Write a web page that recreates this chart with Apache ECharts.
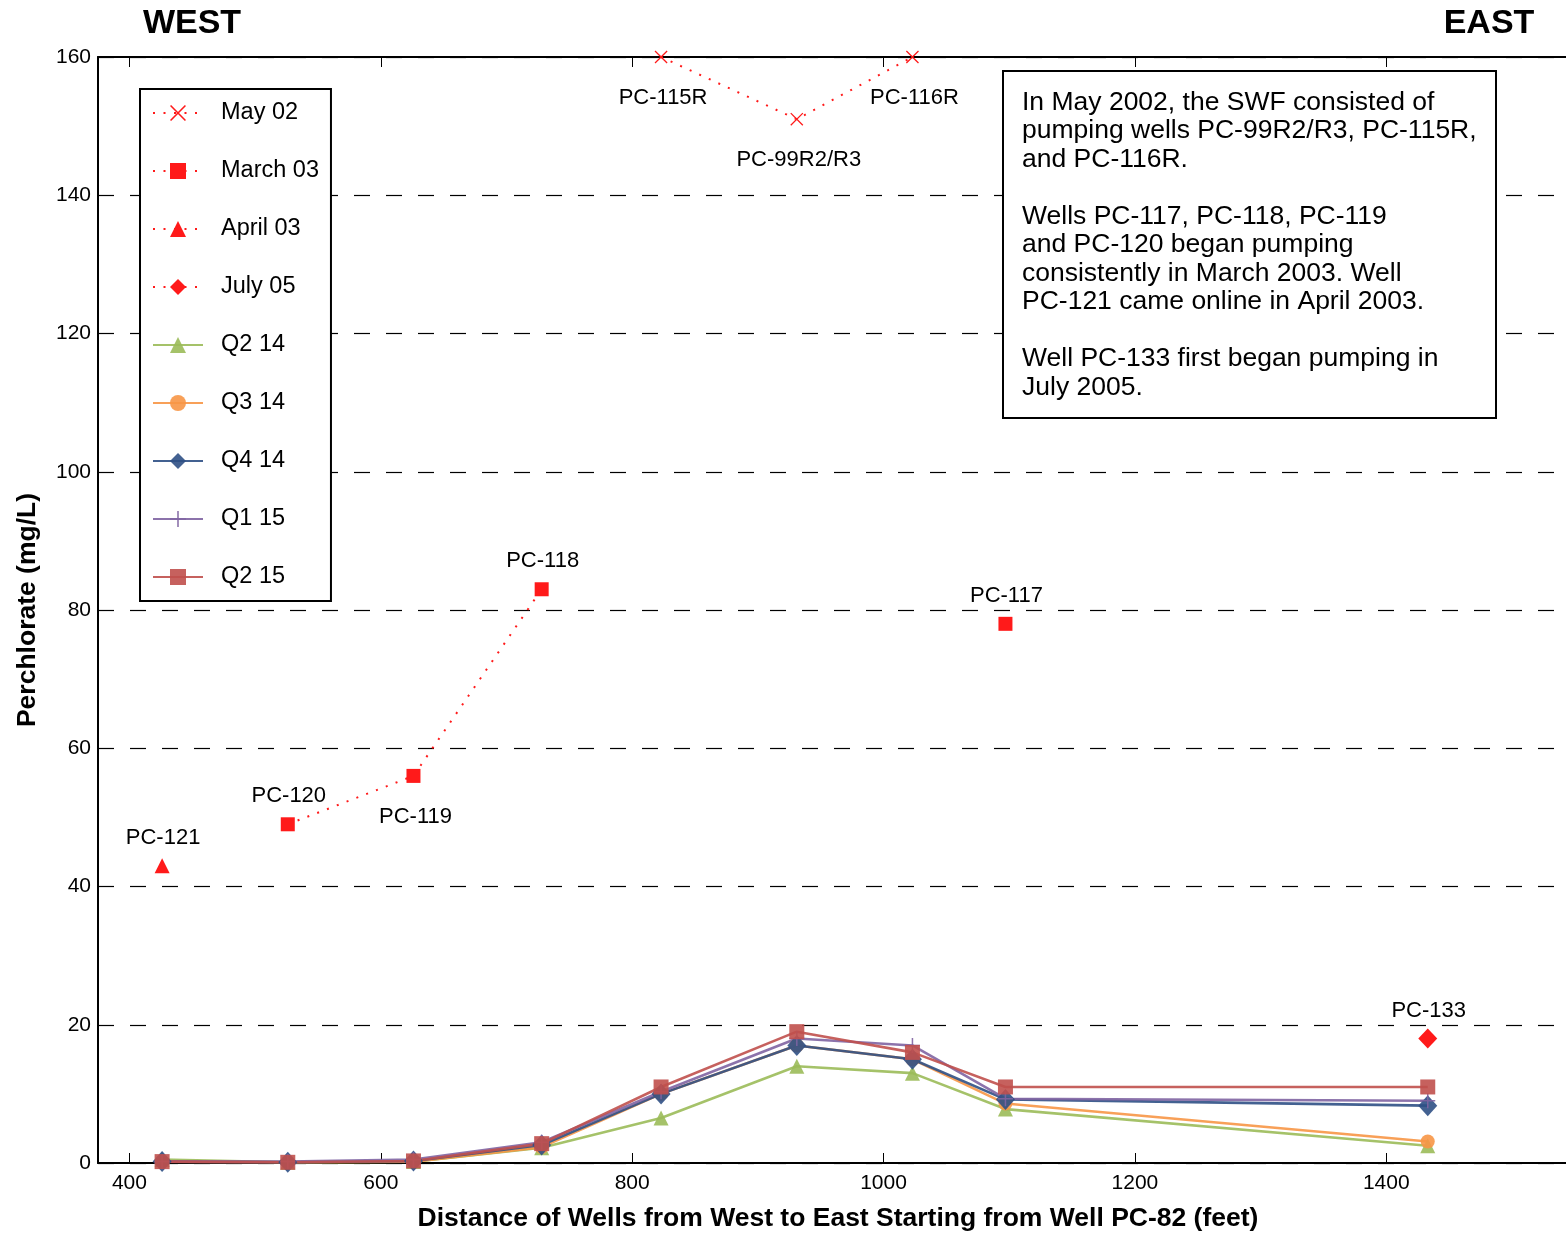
<!DOCTYPE html>
<html>
<head>
<meta charset="utf-8">
<script src="https://cdn.jsdelivr.net/npm/echarts@6/dist/echarts.min.js"></script>
<style>
  html, body { margin: 0; padding: 0; background: #fff; }
  #chart { width: 1566px; height: 1237px; }
</style>
</head>
<body>
<div id="chart"></div>
<script>
// Wells ordered west to east, with distance from PC-82 (feet)
const wellNames = ['PC-121', 'PC-120', 'PC-119', 'PC-118', 'PC-115R', 'PC-99R2/R3', 'PC-116R', 'PC-117', 'PC-133'];
const wellDistance = [426, 526, 626, 728, 823, 931, 1023, 1097, 1433];

// Perchlorate (mg/L) at each well; null = not pumping at that time
const may02   = [null, null, null, null, 160, 151, 160, null, null];
const march03 = [null, 49, 56, 83, null, null, null, 78, null];
const april03 = [43, null, null, null, null, null, null, null, null];
const july05  = [null, null, null, null, null, null, null, null, 18];
const q2_14   = [0.5, 0.1, 0.2, 2.2, 6.5, 14, 13, 7.8, 2.5];
const q3_14   = [0.2, 0.1, 0.2, 2.3, 10, 17, 15, 8.6, 3.1];
const q4_14   = [0.2, 0.1, 0.3, 2.6, 10, 17, 15, 9.2, 8.3];
const q1_15   = [0.2, 0.2, 0.5, 3.0, 10.3, 18, 17, 9.3, 9.0];
const q2_15   = [0.2, 0.1, 0.3, 2.8, 11, 19, 16, 11, 11];

const xTicks = [400, 600, 800, 1000, 1200, 1400];
const yTicks = [0, 20, 40, 60, 80, 100, 120, 140, 160];

const FONT = '"Liberation Sans", Arial, Helvetica, sans-serif';
const RED = '#ff1a1a';

// label placement next to the well markers (pixels)
const ABOVE = [1, -28];
const BELOW = [2, 41];
const labelPlacement = {
  'PC-121': ABOVE, 'PC-120': ABOVE, 'PC-119': BELOW, 'PC-118': ABOVE,
  'PC-117': ABOVE, 'PC-133': ABOVE,
  'PC-115R': BELOW, 'PC-99R2/R3': BELOW, 'PC-116R': BELOW
};

const CROSS = 'path://M0,0.7L0.7,0L10,9.3L9.3,10Z M9.3,0L10,0.7L0.7,10L0,9.3Z';
const PLUS = 'path://M4.5,0H5.5V4.5H10V5.5H5.5V10H4.5V5.5H0V4.5H4.5Z';

function toPoints(values, labelled) {
  return values.map((v, i) => {
    const item = { name: wellNames[i], value: [wellDistance[i], v == null ? '-' : v] };
    if (labelled && v != null) {
      item.label = {
        show: true, position: 'inside', offset: labelPlacement[wellNames[i]],
        formatter: '{b}', color: '#000', fontSize: 22, fontFamily: FONT
      };
    }
    return item;
  });
}

function earlySeries(name, values, symbol, size) {
  return {
    name, type: 'line', data: toPoints(values, true),
    symbol, symbolSize: size, showAllSymbol: true, clip: false,
    itemStyle: { color: RED },
    lineStyle: { color: RED, width: 2, type: [2, 8.5] },
    emphasis: { disabled: true }, z: 5
  };
}

function recentSeries(name, values, color, symbol, size) {
  return {
    name, type: 'line', data: toPoints(values, false),
    symbol, symbolSize: size, showAllSymbol: true,
    itemStyle: { color, opacity: 0.9 },
    lineStyle: { color, width: 2.6, opacity: 0.9 },
    emphasis: { disabled: true }, z: 3
  };
}

const series = [
  recentSeries('Q2 14', q2_14, '#9bbb59', 'triangle', 15),
  recentSeries('Q3 14', q3_14, '#f79646', 'circle', 14),
  recentSeries('Q4 14', q4_14, '#2f5085', 'diamond', [19, 21]),
  recentSeries('Q1 15', q1_15, '#8064a2', PLUS, 15),
  recentSeries('Q2 15', q2_15, '#c0504d', 'rect', 15),
  earlySeries('May 02', may02, CROSS, 13),
  earlySeries('March 03', march03, 'rect', 14),
  earlySeries('April 03', april03, 'triangle', 15),
  earlySeries('July 05', july05, 'diamond', [19, 20])
];

const legendOrder = ['May 02', 'March 03', 'April 03', 'July 05', 'Q2 14', 'Q3 14', 'Q4 14', 'Q1 15', 'Q2 15'];

const note = [
  'In May 2002, the SWF consisted of',
  'pumping wells PC-99R2/R3, PC-115R,',
  'and PC-116R.',
  '',
  'Wells PC-117, PC-118, PC-119',
  'and PC-120 began pumping',
  'consistently in March 2003. Well',
  'PC-121 came online in April 2003.',
  '',
  'Well PC-133 first began pumping in',
  'July 2005.'
].join('\n');

const axisLineStyle = { color: '#000', width: 2 };

const option = {
  animation: false,
  backgroundColor: '#fff',
  textStyle: { fontFamily: FONT },
  grid: { left: 98, right: 0, top: 57, bottom: 71, containLabel: false },
  xAxis: [
    {
      type: 'value', min: 375, max: 1543, position: 'bottom',
      name: 'Distance of Wells from West to East Starting from Well PC-82 (feet)',
      nameLocation: 'middle', nameGap: 42,
      nameTextStyle: { fontSize: 26.5, fontWeight: 'bold', color: '#000', fontFamily: FONT, padding: [0, 0, 0, 12] },
      axisLine: { show: true, onZero: false, lineStyle: axisLineStyle },
      axisTick: { show: true, inside: true, length: 10, customValues: xTicks, lineStyle: { color: '#000', width: 1 } },
      axisLabel: { customValues: xTicks, fontSize: 21, color: '#000', margin: 10, fontFamily: FONT,
                   formatter: v => (xTicks.includes(v) ? String(v) : '') },
      splitLine: { show: false }
    },
    {
      type: 'value', min: 375, max: 1543, position: 'top',
      axisLine: { show: true, onZero: false, lineStyle: axisLineStyle },
      axisTick: { show: true, inside: true, length: 10, customValues: xTicks, lineStyle: { color: '#000', width: 1 } },
      axisLabel: { show: false },
      splitLine: { show: false }
    }
  ],
  yAxis: {
    type: 'value', min: 0, max: 160, interval: 20,
    name: 'Perchlorate (mg/L)', nameLocation: 'middle', nameGap: 57,
    nameTextStyle: { fontSize: 26.5, fontWeight: 'bold', color: '#000', fontFamily: FONT },
    axisLine: { show: true, lineStyle: axisLineStyle },
    axisTick: { show: true, inside: true, length: 13, lineStyle: { color: '#000', width: 1 } },
    axisLabel: { fontSize: 21, color: '#000', margin: 7, fontFamily: FONT },
    splitLine: { show: true, lineStyle: { color: '#000', width: 1.2, type: [16, 16] } }
  },
  legend: {
    data: legendOrder,
    orient: 'vertical', left: 140, top: 89,
    itemWidth: 50, itemHeight: 20, itemGap: 34,
    padding: [12, 12, 12, 12],
    borderColor: '#000', borderWidth: 2, backgroundColor: '#fff',
    textStyle: { fontSize: 23.5, color: '#000', fontFamily: FONT, padding: [0, 0, 0, 13] },
    selectedMode: false, z: 8
  },
  graphic: [
    { type: 'text', x: 192, y: 24, z: 10,
      style: { text: 'WEST', fontSize: 34, fontWeight: 'bold', fontFamily: FONT, fill: '#000', align: 'center', verticalAlign: 'middle' } },
    { type: 'text', x: 1489, y: 24, z: 10,
      style: { text: 'EAST', fontSize: 34, fontWeight: 'bold', fontFamily: FONT, fill: '#000', align: 'center', verticalAlign: 'middle' } },
    { type: 'rect', x: 1003, y: 71, z: 10,
      shape: { x: 0, y: 0, width: 493, height: 347 },
      style: { fill: '#fff', stroke: '#000', lineWidth: 2 } },
    { type: 'text', x: 1022, y: 88, z: 11,
      style: { text: note, fontSize: 26.5, lineHeight: 28.5, fontFamily: FONT, fill: '#000', align: 'left', verticalAlign: 'top' } }
  ],
  series
};

const chart = echarts.init(document.getElementById('chart'), null, { renderer: 'canvas' });
chart.setOption(option);
</script>
</body>
</html>
